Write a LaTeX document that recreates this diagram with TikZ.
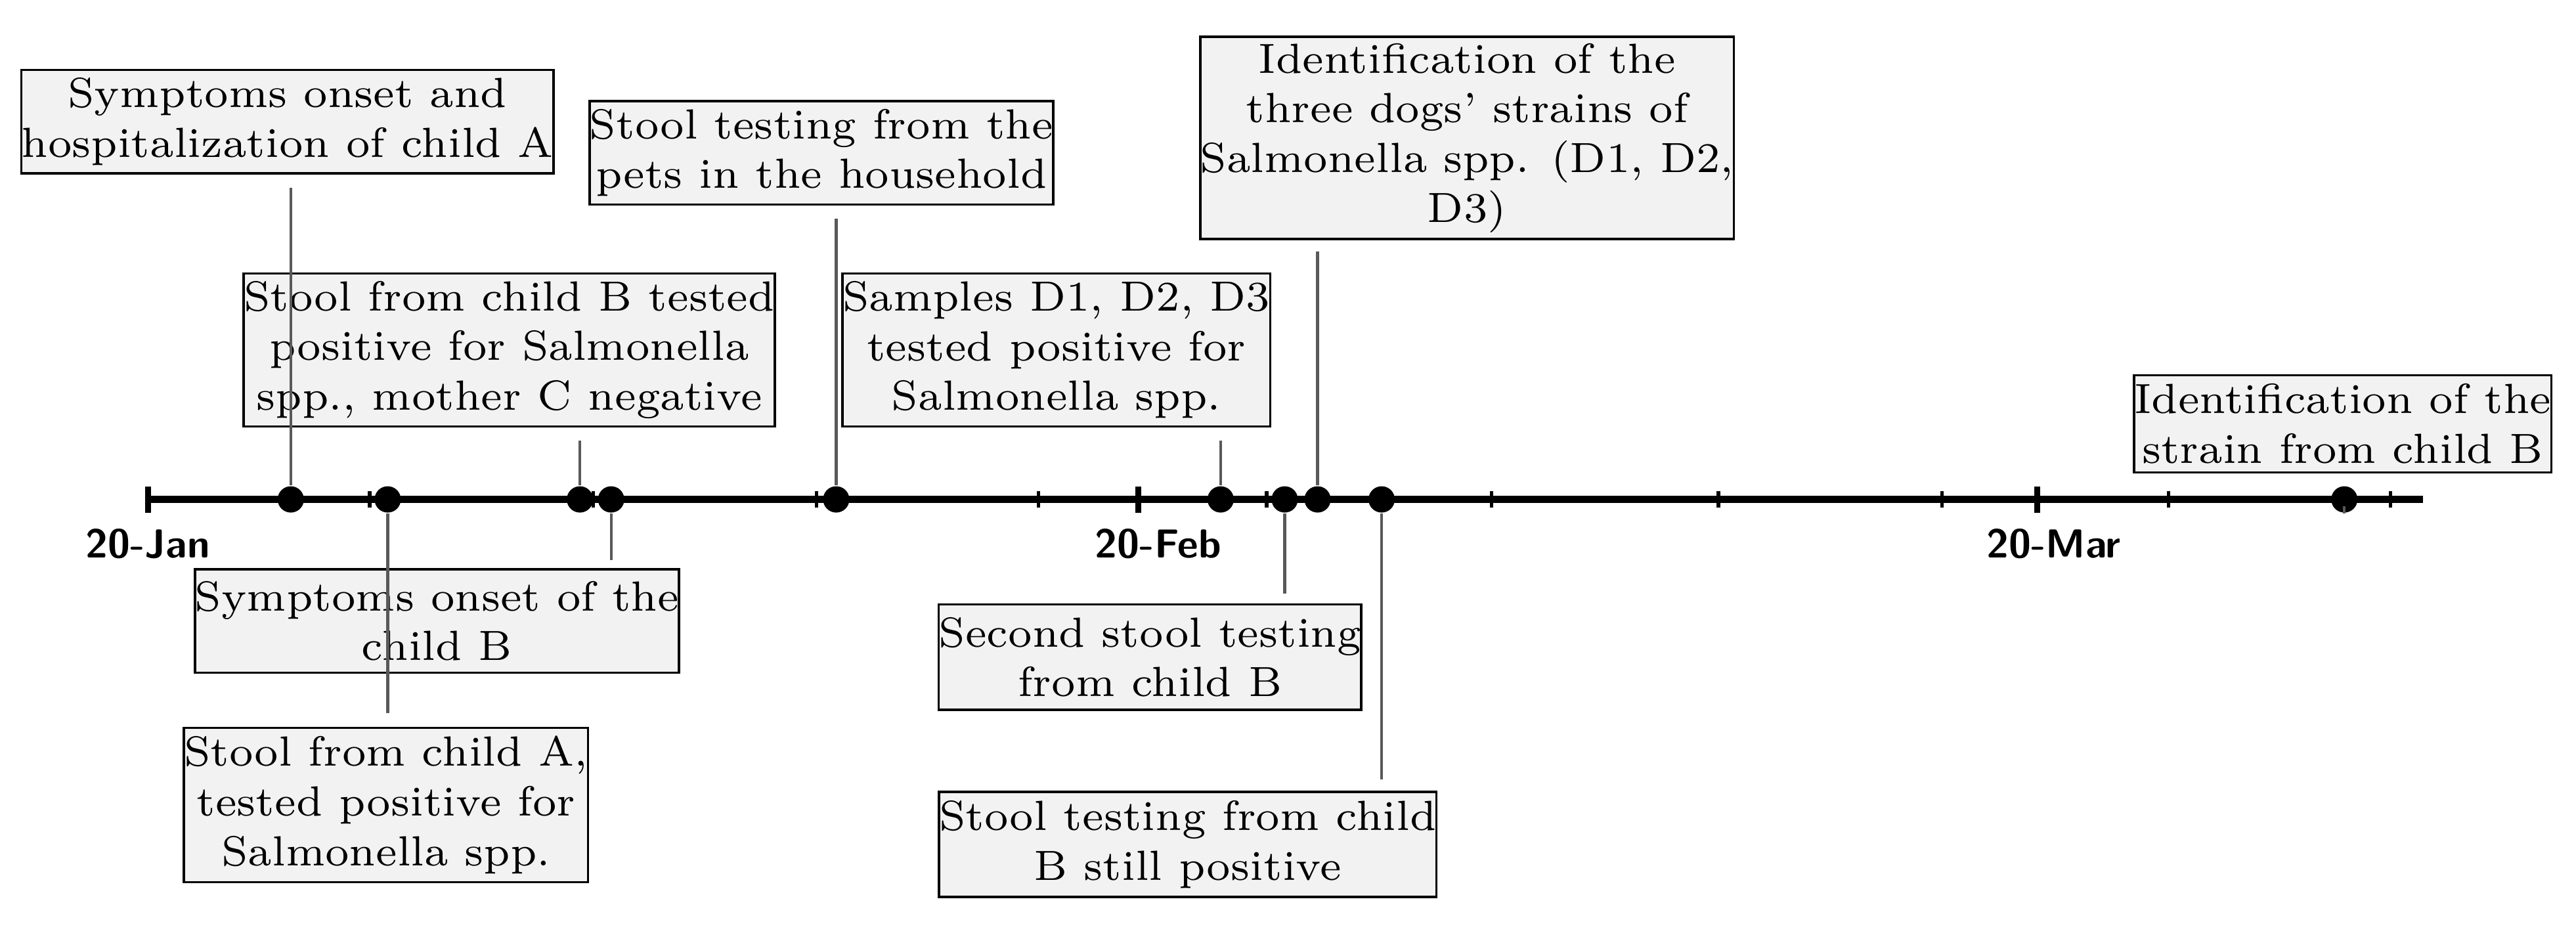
\documentclass[tikz,border=0pt]{standalone}
\usepackage{xcolor}
\usepackage{tikz}
\definecolor{boxgray}{HTML}{F2F2F2}
\tikzset{
  event/.style={draw=black,fill=boxgray,align=center,inner sep=0pt,
    font=\fontsize{7.3}{8.6}\selectfont},
  stem/.style={gray!70!black,line width=0.5pt},
  dot/.style={circle,fill=black,inner sep=0pt,minimum size=0.16cm},
  datelbl/.style={font=\sffamily\bfseries\fontsize{7}{8}\selectfont}
}
\begin{document}
\begin{tikzpicture}[x=0.01cm,y=-0.01cm]
\useasboundingbox (0,0) rectangle (1568,570);
% time axis
\draw[line width=1.2pt] (90,304) -- (1475,304);
\foreach \t in {90,693,1240} \draw[line width=1pt] (\t,296) -- (\t,312);
\foreach \t in {225,361,497,632,771,908,1046,1182,1320,1455} \draw[line width=0.6pt] (\t,299) -- (\t,309);
\node[datelbl] (jan) at (90,331) {20-Jan};
\node[datelbl] (feb) at (705,331) {20-Feb};
\node[datelbl] (mar) at (1250,331) {20-Mar};
% events on the axis
\foreach \n/\t in {a/177,b/236,c/353,d/372,e/509,f/743,g/782,h/802,i/841,j/1427}
  \node[dot] (p\n) at (\t,304) {};
% boxes above
\node[event,minimum width=3.1cm,minimum height=0.63cm] (onsetA) at (175,74) {Symptoms onset and\\hospitalization of child A};
\node[event,minimum width=3.14cm,minimum height=0.93cm] (stoolB) at (310,213) {Stool from child B tested\\positive for Salmonella\\spp., mother C negative};
\node[event,minimum width=2.74cm,minimum height=0.63cm] (pets) at (500,93) {Stool testing from the\\pets in the household};
\node[event,minimum width=2.39cm,minimum height=0.93cm] (samples) at (643,213) {Samples D1, D2, D3\\tested positive for\\Salmonella spp.};
\node[event,minimum width=3.11cm,minimum height=1.23cm] (dogs) at (893,84) {Identification of the\\three dogs' strains of\\Salmonella spp. (D1, D2,\\D3)};
\node[event,minimum width=2.49cm,minimum height=0.59cm] (strain) at (1426,258) {Identification of the\\strain from child B};
% boxes below
\node[event,minimum width=2.87cm,minimum height=0.63cm] (onsetB) at (266,378) {Symptoms onset of the\\child B};
\node[event,minimum width=2.4cm,minimum height=0.94cm] (stoolA) at (235,490) {Stool from child A,\\tested positive for\\Salmonella spp.};
\node[event,minimum width=2.53cm,minimum height=0.64cm] (second) at (700,400) {Second stool testing\\from child B};
\node[event,minimum width=2.94cm,minimum height=0.64cm] (still) at (723,514) {Stool testing from child\\B still positive};
% stems
\draw[stem] (pa) -- ([yshift=-0.08cm]pa |- onsetA.south);
\draw[stem] (pc) -- ([yshift=-0.08cm]pc |- stoolB.south);
\draw[stem] (pe) -- ([yshift=-0.08cm]pe |- pets.south);
\draw[stem] (pf) -- ([yshift=-0.08cm]pf |- samples.south);
\draw[stem] (ph) -- ([yshift=-0.07cm]ph |- dogs.south);
\draw[stem] (pj) -- ([yshift=-0.2cm]pj |- strain.south);
\draw[stem] (pd) -- ([yshift=0.05cm]pd |- onsetB.north);
\draw[stem] (pb) -- ([yshift=0.08cm]pb |- stoolA.north);
\draw[stem] (pg) -- ([yshift=0.06cm]pg |- second.north);
\draw[stem] (pi) -- ([yshift=0.07cm]pi |- still.north);
\end{tikzpicture}
\end{document}
